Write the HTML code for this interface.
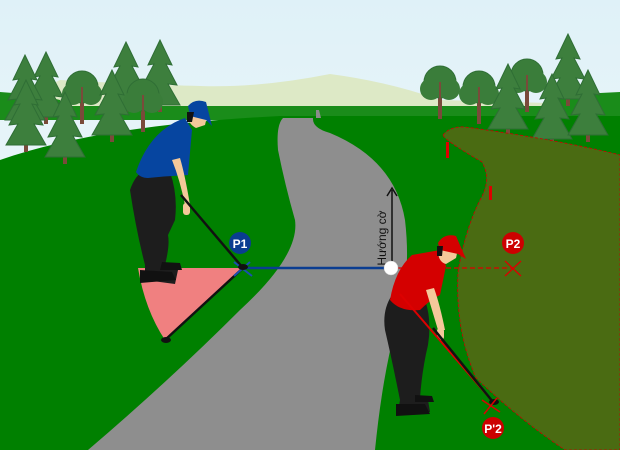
<!DOCTYPE html>
<html><head><meta charset="utf-8"><style>
html,body{margin:0;padding:0;width:620px;height:450px;overflow:hidden;background:#fff}
svg{display:block}
</style></head><body>
<svg width="620" height="450" viewBox="0 0 620 450" xmlns="http://www.w3.org/2000/svg">
<defs>
<linearGradient id="sky" x1="0" y1="0" x2="0" y2="1">
<stop offset="0" stop-color="#dff1f8"/><stop offset="1" stop-color="#f7fbfb"/>
</linearGradient>
<g id="pine">
<rect x="-2" y="-8" width="4" height="10" fill="#7a4a3a"/>
<polygon points="0,-70 -12,-45 -6,-46 -17,-25 -8,-26 -20,-5 20,-5 8,-26 17,-25 6,-46 12,-45" fill="#3d7f3d" stroke="#2f6e35" stroke-width="1"/>
</g>
<g id="oak">
<rect x="-2" y="-25" width="4" height="27" fill="#7a4a3a"/>
<circle cx="0" cy="-35" r="16" fill="#3a7d3a" stroke="#2f6e35"/>
<circle cx="-9" cy="-28" r="11" fill="#3a7d3a"/>
<circle cx="9" cy="-28" r="11" fill="#3a7d3a"/>
<rect x="-1" y="-35" width="2" height="20" fill="#7a4a3a"/>
</g>
</defs>
<rect width="620" height="450" fill="url(#sky)"/>
<path d="M0,110 L60,80 Q150,85 200,86 Q260,88 330,74 Q390,82 440,100 L620,105 L620,115 L0,115Z" fill="#dde9c6"/>
<rect x="0" y="106" width="620" height="14" fill="#1a8c1a"/>
<path d="M0,92 Q40,95 60,100 L60,110 L0,110Z" fill="#1a8c1a"/>
<path d="M560,95 L620,92 L620,110 L540,110Z" fill="#1a8c1a"/>
<path d="M0,160 Q100,125 280,116 L620,116 L620,450 L0,450Z" fill="#008000"/>
<!-- trees left -->
<use href="#pine" x="46" y="122"/>
<use href="#pine" x="25" y="125"/>
<use href="#oak" x="82" y="122"/>
<use href="#pine" x="126" y="112"/>
<use href="#pine" x="160" y="110"/>
<use href="#oak" x="143" y="130"/>
<use href="#pine" x="26" y="150"/>
<use href="#pine" x="112" y="140"/>
<use href="#pine" x="65" y="162"/>
<!-- trees right -->
<use href="#oak" x="440" y="117"/>
<use href="#oak" x="479" y="122"/>
<use href="#oak" x="527" y="110"/>
<use href="#pine" x="568" y="104"/>
<use href="#pine" x="508" y="134"/>
<use href="#pine" x="552" y="144"/>
<use href="#pine" x="588" y="140"/>
<!-- rough -->
<path d="M443,135 Q450,126 465,127 Q560,140 620,155 L620,450 L565,450 Q520,420 476,378 Q455,330 458,272 Q465,230 480,200 Q492,180 482,162 Q444,140 443,135Z" fill="#4a6b12" stroke="#c00" stroke-width="0.8" stroke-dasharray="3,2"/>
<rect x="446" y="142" width="3" height="16" fill="#d00"/>
<rect x="489" y="186" width="3" height="14" fill="#d00"/>
<!-- road -->
<path d="M316,110 L319,110 L321,118 L316,118Z" fill="#8c8c8c"/>
<path d="M283,118 L313,118 Q312,128 330,133 Q395,160 405,220 Q412,280 395,330 Q382,380 375,450 L88,450 Q170,380 240,310 Q300,255 295,220 Q285,185 278,150 Q276,125 283,118Z" fill="#8e8e8e"/>
<!-- pink sector -->
<path d="M138,268 L243,268 L165,340 Q145,310 138,268Z" fill="#f08080"/>
<line x1="243" y1="268" x2="165" y2="340" stroke="#111" stroke-width="2.5"/>
<ellipse cx="166" cy="340" rx="5" ry="3" fill="#111"/>
<!-- blue golfer -->
<g>
<path d="M145,170 Q135,175 130,190 Q136,230 145,265 L145,280 L175,284 L178,270 L165,265 Q170,245 168,235 L175,220 Q178,195 170,172Z" fill="#1d1d1d"/>
<path d="M140,270 L172,272 L176,280 L140,283Z" fill="#111"/>
<path d="M162,262 L180,263 L182,270 L160,270Z" fill="#111"/>
<path d="M136,172 Q150,130 185,118 L192,130 L188,175 Q168,176 148,178 Q140,178 136,172Z" fill="#0645a0"/>
<path d="M172,160 Q180,180 185,205 L190,205 Q185,175 180,158Z" fill="#f4c89a"/>
<rect x="183" y="203" width="7" height="12" rx="3" fill="#f4c89a"/>
<line x1="181" y1="195" x2="243" y2="268" stroke="#111" stroke-width="2.5"/>
<path d="M188,115 Q192,103 204,103 Q210,106 205,125 L196,128 Q188,124 188,115Z" fill="#f4c89a"/>
<path d="M188,106 Q195,98 206,102 L212,126 L206,120 L190,116Z" fill="#0645a0"/>
<path d="M187,112 L194,112 L192,122 L187,122Z" fill="#111"/>
</g>
<!-- blue line, ball -->
<line x1="243" y1="268" x2="386" y2="268" stroke="#0a3d91" stroke-width="2.5"/>
<line x1="234" y1="262" x2="252" y2="276" stroke="#1a4fb0" stroke-width="2"/>
<line x1="234" y1="276" x2="250" y2="262" stroke="#1a4fb0" stroke-width="2"/>
<ellipse cx="243" cy="267" rx="5" ry="3" fill="#111"/>
<circle cx="240" cy="243" r="11" fill="#0a3d91"/>
<text x="240" y="248" font-family="Liberation Sans, sans-serif" font-size="12" font-weight="bold" fill="#fff" text-anchor="middle">P1</text>
<line x1="392" y1="265" x2="392" y2="190" stroke="#111" stroke-width="1.5"/>
<polyline points="387,196 392,188 397,196" fill="none" stroke="#111" stroke-width="1.5"/>
<text transform="translate(386,238) rotate(-90)" font-family="Liberation Sans, sans-serif" font-size="12" fill="#111" text-anchor="middle">Hướng cờ</text>
<!-- red dashed -->
<line x1="398" y1="268" x2="513" y2="268" stroke="#d00" stroke-width="1.3" stroke-dasharray="5,3"/>
<line x1="505" y1="261" x2="521" y2="276" stroke="#d00" stroke-width="1.3"/>
<line x1="505" y1="276" x2="521" y2="261" stroke="#d00" stroke-width="1.3"/>
<circle cx="513" cy="243" r="11" fill="#c00"/>
<text x="513" y="248" font-family="Liberation Sans, sans-serif" font-size="12" font-weight="bold" fill="#fff" text-anchor="middle">P2</text>
<!-- red golfer -->
<g>
<path d="M392,295 Q382,310 385,330 Q392,360 400,400 L398,412 L430,412 L428,400 L420,398 Q422,370 428,345 Q432,320 425,300Z" fill="#1d1d1d"/>
<path d="M396,404 L425,404 L430,414 L396,416Z" fill="#111"/>
<path d="M415,395 L432,396 L434,402 L415,402Z" fill="#111"/>
<path d="M390,300 Q395,270 412,255 L440,250 L446,266 L440,295 Q430,300 420,310 Q400,312 390,300Z" fill="#d40000"/>
<path d="M426,290 Q432,310 438,330 L445,330 Q440,305 434,288Z" fill="#f4c89a"/>
<rect x="437" y="328" width="7" height="12" rx="3" fill="#f4c89a"/>
<line x1="400" y1="294" x2="493" y2="402" stroke="#d00" stroke-width="2"/>
<line x1="433" y1="328" x2="493" y2="402" stroke="#111" stroke-width="2.5"/>
<ellipse cx="494" cy="402" rx="5" ry="3" fill="#111"/>
<path d="M438,250 Q442,238 452,238 Q460,242 456,258 L446,264 Q438,262 438,250Z" fill="#f4c89a"/>
<path d="M438,243 Q444,233 456,236 L466,259 L458,254 L440,250Z" fill="#d40000"/>
<path d="M437,246 L443,246 L442,256 L437,256Z" fill="#111"/>
</g>
<circle cx="391" cy="268" r="7" fill="#fff" stroke="#ccc" stroke-width="0.5"/>
<line x1="482" y1="400" x2="500" y2="412" stroke="#d00" stroke-width="1.5"/>
<line x1="484" y1="414" x2="497" y2="398" stroke="#d00" stroke-width="1.5"/>
<circle cx="493" cy="428" r="11" fill="#c00"/>
<text x="493" y="433" font-family="Liberation Sans, sans-serif" font-size="12" font-weight="bold" fill="#fff" text-anchor="middle">P'2</text>
</svg>
</body></html>
